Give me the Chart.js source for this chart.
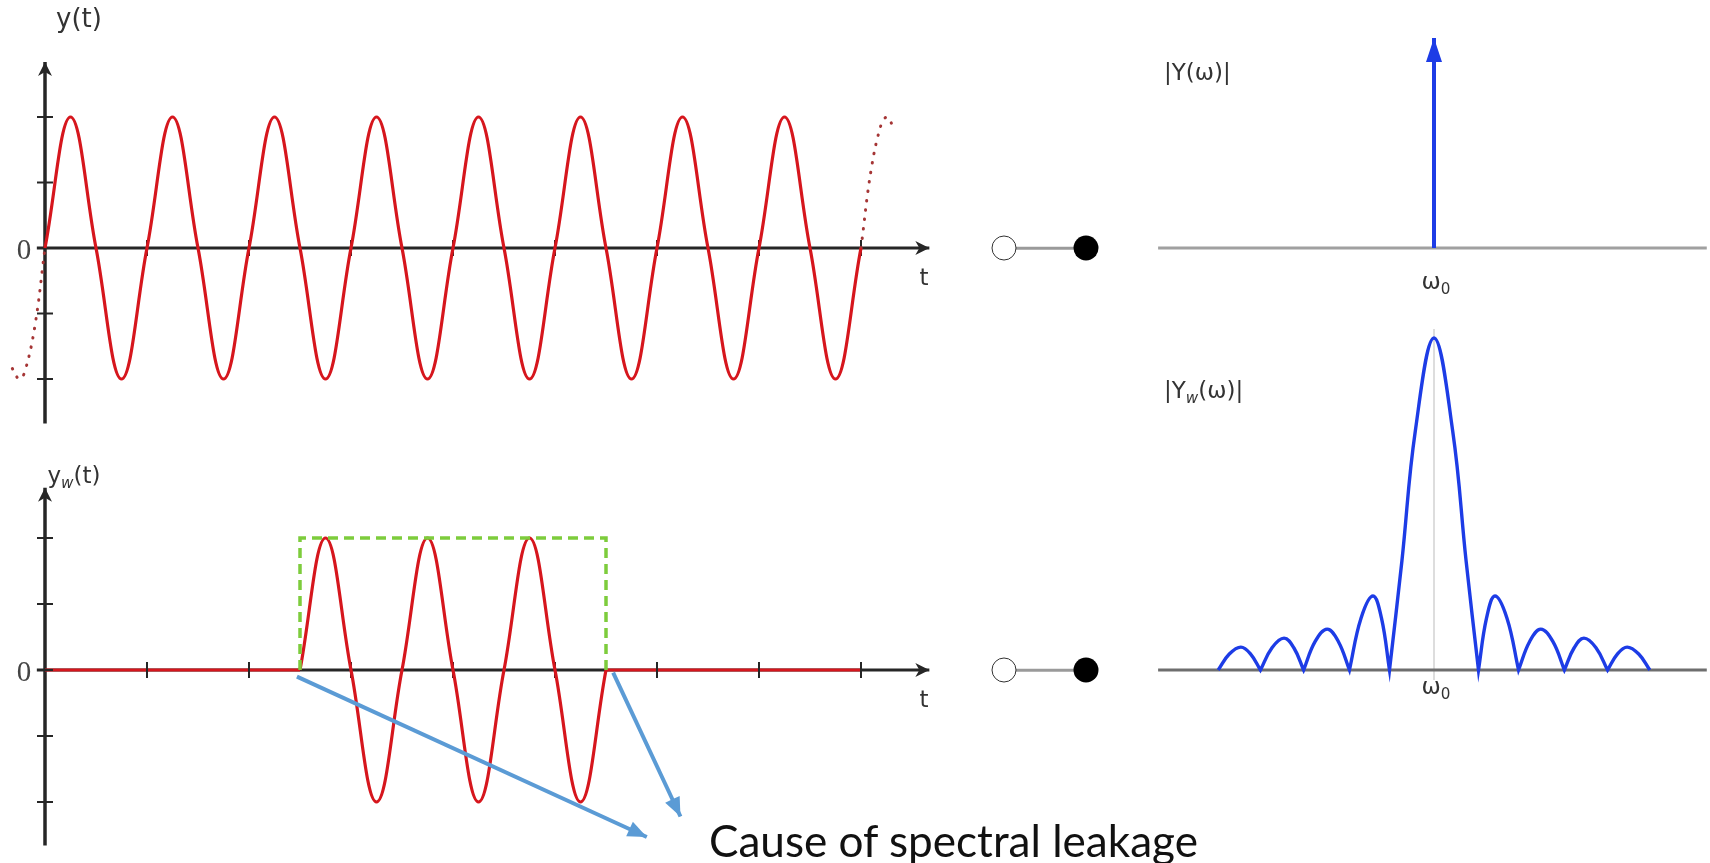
<!DOCTYPE html>
<html>
<head>
<meta charset="utf-8">
<title>Cause of spectral leakage</title>
<script src="https://cdn.jsdelivr.net/npm/chart.js"></script>
<style>
  body { margin: 0; background: #fff; }
  #page { position: relative; width: 1710px; height: 863px; overflow: hidden; }
  canvas { position: absolute; }
  .lbl { position: absolute; transform: translate(-50%, -50%); line-height: 1; white-space: nowrap;
         font-family: "DejaVu Sans", sans-serif; font-size: 23px; color: #333; }
  .lbl.left { transform: translate(0, -50%); }
  .zero { font-family: "Liberation Serif", serif; font-size: 29px; color: #444; }
  .sub { font-size: 0.66em; position: relative; top: 0.3em; }
  .ring, .disc { position: absolute; width: 25px; height: 25px; border-radius: 50%; box-sizing: border-box;
                 transform: translate(-50%, -50%); }
  .ring { border: 1.6px solid #333; background: #fff; }
  .disc { background: #000; }
  .link { position: absolute; height: 2.5px; background: #9a9a9a; transform: translateY(-50%); }
  #cause { position: absolute; left: 709px; top: 818px; line-height: 1; white-space: nowrap;
           font-family: Lato, "Open Sans", sans-serif; font-size: 43px; color: #111; }
</style>
</head>
<body>
<div id="page">
  <canvas id="timeTop" width="960" height="440" style="left:0;top:0"></canvas>
  <canvas id="timeBot" width="960" height="423" style="left:0;top:440px"></canvas>
  <canvas id="freqTop" width="610" height="300" style="left:1100px;top:0"></canvas>
  <canvas id="freqBot" width="610" height="420" style="left:1100px;top:300px"></canvas>

  <div class="lbl" style="left:79px;top:18px;font-size:26px">y(t)</div>
  <div class="lbl zero" style="left:24px;top:249px">0</div>
  <div class="lbl" style="left:924px;top:277px">t</div>
  <div class="lbl" style="left:74px;top:475px">y<i class="sub">w</i>(t)</div>
  <div class="lbl zero" style="left:24px;top:671px">0</div>
  <div class="lbl" style="left:924px;top:699px">t</div>

  <div class="lbl left" style="left:1164px;top:72px">|Y(ω)|</div>
  <div class="lbl left" style="left:1164px;top:390px">|Y<i class="sub">w</i>(ω)|</div>
  <div class="lbl" style="left:1436px;top:281px">ω<span class="sub">0</span></div>
  <div class="lbl" style="left:1436px;top:686px">ω<span class="sub">0</span></div>

  <div class="link" style="left:1004px;top:248px;width:82px"></div>
  <div class="ring" style="left:1004px;top:248px"></div>
  <div class="disc" style="left:1086px;top:248px"></div>
  <div class="link" style="left:1004px;top:670px;width:82px"></div>
  <div class="ring" style="left:1004px;top:670px"></div>
  <div class="disc" style="left:1086px;top:670px"></div>

  <div id="cause">Cause of spectral leakage</div>
</div>

<script>
// ---- data (time in periods of the sine, frequency in main-lobe half widths) ----
// y(t): read at every quarter period
const sineT = [0, 0.25, 0.5, 0.75, 1, 1.25, 1.5, 1.75, 2, 2.25, 2.5, 2.75, 3, 3.25, 3.5, 3.75,
               4, 4.25, 4.5, 4.75, 5, 5.25, 5.5, 5.75, 6, 6.25, 6.5, 6.75, 7, 7.25, 7.5, 7.75, 8];
const sineY = [0, 1, 0, -1, 0, 1, 0, -1, 0, 1, 0, -1, 0, 1, 0, -1,
               0, 1, 0, -1, 0, 1, 0, -1, 0, 1, 0, -1, 0, 1, 0, -1, 0];
// dotted continuation before and after
const leadT = [-0.32, -0.28, -0.25, -0.2, -0.1, 0];
const leadY = [-0.92, -0.98, -1, -0.95, -0.6, 0];
const tailT = [8, 8.1, 8.2, 8.25, 8.28, 8.31];
const tailY = [0, 0.6, 0.95, 1, 0.98, 0.93];

// y_w(t): three periods inside the window
const winT = [2.5, 2.75, 3, 3.25, 3.5, 3.75, 4, 4.25, 4.5, 4.75, 5, 5.25, 5.5];
const winY = [0, 1, 0, -1, 0, 1, 0, -1, 0, 1, 0, -1, 0];
const flatSegs = [[0, 2.5], [5.5, 8]];
const boxT = [2.5, 2.5, 5.5, 5.5];
const boxY = [0, 1, 1, 0];

const tTicks = [1, 2, 3, 4, 5, 6, 7, 8];
const yTicks = [1, 0.5, 0, -0.5, -1];

// annotation arrows (t, y_w)
const arrow1T = [2.47, 5.9];
const arrow1Y = [-0.05, -1.265];
const arrow2T = [5.57, 6.23];
const arrow2Y = [-0.02, -1.11];

// |Y(w)|: single line at w0
const lineW = [0, 0];
const lineY = [0, 1];

// |Yw(w)|: lobes, zeros listed twice so each lobe meets the axis in a cusp
const specW = [-4.85, -4.6, -4.34, -4.12, -3.9, -3.9, -3.64, -3.37, -3.15, -2.93,
               -2.93, -2.67, -2.4, -2.15, -1.9, -1.9, -1.64, -1.37, -1.18, -1,
               -1, -0.72, -0.42, 0, 0.42, 0.72, 1,
               1, 1.18, 1.37, 1.64, 1.9, 1.9, 2.15, 2.4, 2.67, 2.93,
               2.93, 3.15, 3.37, 3.64, 3.9, 3.9, 4.12, 4.34, 4.6, 4.85];
const specY = [0, 0.048, 0.069, 0.048, 0, 0, 0.067, 0.096, 0.067, 0,
               0, 0.086, 0.123, 0.086, 0, 0, 0.156, 0.223, 0.156, 0,
               0, 0.33, 0.72, 1, 0.72, 0.33, 0,
               0, 0.156, 0.223, 0.156, 0, 0, 0.086, 0.123, 0.086, 0,
               0, 0.067, 0.096, 0.067, 0, 0, 0.048, 0.069, 0.048, 0];

// ---- styling ----
const AXIS = '#262626';
const RED = '#d6161d';
const DOTS = '#a53535';
const GREEN = '#7dcc3c';
const NOTE = '#5b9bd5';
const BLUE = '#1d3ce6';

const pts = (xs, ys) => xs.map((x, i) => ({ x: x, y: ys[i] }));

// pixel placement: value 0 at `origin` px, `unit` px per value
function spanX(origin, unit, size) { return { min: -origin / unit, max: (size - origin) / unit }; }
function spanY(origin, unit, size) { return { min: (origin - size) / unit, max: origin / unit }; }

function lineDs(data, color, width, order, extra) {
  return Object.assign({
    data: data, borderColor: color, borderWidth: width, pointRadius: 0,
    tension: 0, fill: false, borderCapStyle: 'butt', order: order
  }, extra || {});
}

function tickDs(data, rotation, order) {
  return {
    data: data, showLine: false, pointStyle: 'line', pointRadius: 8,
    pointBorderWidth: 2, pointBorderColor: AXIS, pointBackgroundColor: AXIS,
    pointRotation: rotation, order: order
  };
}

// draws an arrow head at the last point of datasets that have an `arrow` setting
const arrowHeads = {
  id: 'arrowHeads',
  afterDatasetsDraw(chart) {
    const ctx = chart.ctx;
    chart.data.datasets.forEach((ds, i) => {
      if (!ds.arrow) return;
      const els = chart.getDatasetMeta(i).data;
      const a = els[els.length - 2], b = els[els.length - 1];
      const ang = Math.atan2(b.y - a.y, b.x - a.x);
      const h = ds.arrow;
      ctx.save();
      ctx.translate(b.x, b.y);
      ctx.rotate(ang);
      ctx.beginPath();
      ctx.moveTo(0, 0);
      ctx.lineTo(-h.len, -h.half);
      ctx.lineTo(-h.len + h.notch, 0);
      ctx.lineTo(-h.len, h.half);
      ctx.closePath();
      ctx.fillStyle = h.color;
      ctx.fill();
      ctx.restore();
    });
  }
};

function makeChart(id, xr, yr, datasets) {
  return new Chart(document.getElementById(id), {
    type: 'line',
    data: { datasets: datasets },
    options: {
      responsive: false,
      animation: false,
      events: [],
      layout: { padding: 0, autoPadding: false },
      plugins: { legend: { display: false }, tooltip: { enabled: false } },
      scales: {
        x: { type: 'linear', display: false, bounds: 'data', min: xr.min, max: xr.max },
        y: { type: 'linear', display: false, bounds: 'data', min: yr.min, max: yr.max }
      }
    },
    plugins: [arrowHeads]
  });
}

const axisHead = { len: 14, half: 7, notch: 4, color: AXIS };

// top left: y(t)
makeChart('timeTop', spanX(45, 102, 960), spanY(248, 131, 440), [
  lineDs(pts([0, 0], [-1.34, 1.42]), AXIS, 3.5, 6, { arrow: axisHead }),
  lineDs(pts([-0.08, 8.67], [0, 0]), AXIS, 3, 6, { arrow: axisHead }),
  tickDs(pts(yTicks.map(() => 0), yTicks), 0, 5),
  tickDs(pts(tTicks, tTicks.map(() => 0)), 90, 5),
  lineDs(pts(leadT, leadY), DOTS, 3, 3, { tension: 0.4, borderDash: [0.5, 9], borderCapStyle: 'round' }),
  lineDs(pts(tailT, tailY), DOTS, 3, 3, { tension: 0.4, borderDash: [0.5, 9], borderCapStyle: 'round' }),
  lineDs(pts(sineT, sineY), RED, 3.2, 2, { tension: 0.4 })
]);

// bottom left: y_w(t)
makeChart('timeBot', spanX(45, 102, 960), spanY(230, 132, 423), [
  lineDs(pts([0, 0], [-1.33, 1.38]), AXIS, 3.5, 6, { arrow: axisHead }),
  lineDs(pts([-0.08, 8.67], [0, 0]), AXIS, 3, 6, { arrow: axisHead }),
  lineDs(pts(flatSegs[0], [0, 0]), RED, 3.2, 5),
  lineDs(pts(flatSegs[1], [0, 0]), RED, 3.2, 5),
  tickDs(pts(yTicks.map(() => 0), yTicks), 0, 4),
  tickDs(pts(tTicks, tTicks.map(() => 0)), 90, 4),
  lineDs(pts(winT, winY), RED, 3.2, 3, { tension: 0.4 }),
  lineDs(pts(boxT, boxY), GREEN, 3.5, 2, { borderDash: [10, 6] }),
  lineDs(pts(arrow1T, arrow1Y), NOTE, 4, 1, { arrow: { len: 19, half: 8, notch: 0, color: NOTE } }),
  lineDs(pts(arrow2T, arrow2Y), NOTE, 4, 1, { arrow: { len: 19, half: 8, notch: 0, color: NOTE } })
]);

// top right: |Y(w)|
makeChart('freqTop', spanX(334, 44.5, 610), spanY(248, 210, 300), [
  lineDs(pts([-6.2, 6.13], [0, 0]), '#a0a0a0', 3, 2),
  lineDs(pts(lineW, lineY), BLUE, 4, 1, { arrow: { len: 24, half: 8, notch: 0, color: BLUE } })
]);

// bottom right: |Yw(w)|
makeChart('freqBot', spanX(334, 44.5, 610), spanY(370, 332, 420), [
  lineDs(pts([0, 0], [-0.03, 1.027]), '#d2d2d2', 1.5, 4),
  lineDs(pts([-6.2, 6.13], [0, 0]), '#6e6e6e', 3, 3),
  lineDs(pts(specW, specY), BLUE, 3.4, 1, { tension: 0.4 })
]);

// fit caption width to the picture
const cause = document.getElementById('cause');
const w0 = cause.getBoundingClientRect().width;
cause.style.fontSize = (43 * 489 / w0).toFixed(2) + 'px';
</script>
</body>
</html>
